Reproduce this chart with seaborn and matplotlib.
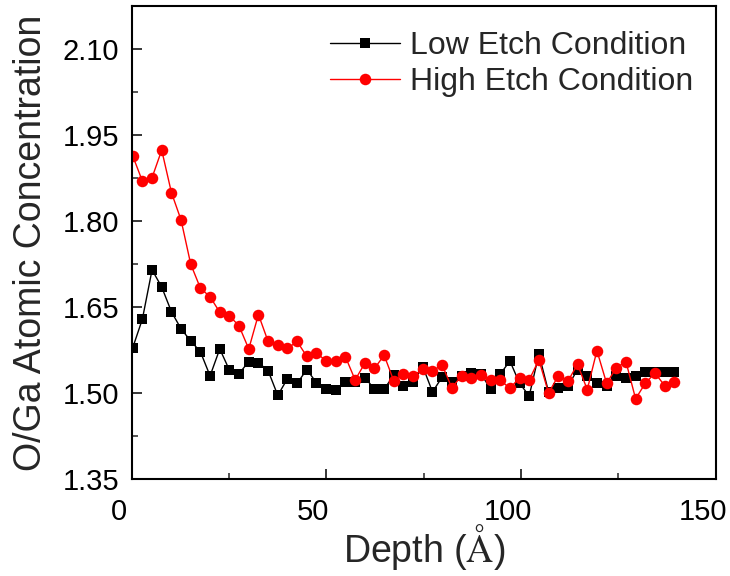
import matplotlib
matplotlib.use("Agg")
import matplotlib.pyplot as plt
from matplotlib.transforms import ScaledTranslation
from matplotlib.ticker import MultipleLocator
import seaborn as sns
import pandas as pd

depth = [0.26, 2.74, 5.23, 7.71, 10.20, 12.68, 15.16, 17.65, 20.13, 22.62,
         25.10, 27.58, 30.07, 32.55, 35.04, 37.52, 40.00, 42.49, 44.97, 47.46,
         49.94, 52.42, 54.91, 57.39, 59.88, 62.36, 64.84, 67.33, 69.81, 72.30,
         74.78, 77.26, 79.75, 82.23, 84.72, 87.20, 89.68, 92.17, 94.65, 97.14,
         99.62, 102.10, 104.59, 107.07, 109.56, 112.04, 114.52, 117.01, 119.49, 121.98,
         124.46, 126.94, 129.43, 131.91, 134.40, 136.88, 139.36]

low_etch = [1.579, 1.629, 1.715, 1.685, 1.642, 1.612, 1.591, 1.572, 1.530, 1.577,
            1.540, 1.534, 1.555, 1.553, 1.539, 1.496, 1.525, 1.517, 1.541, 1.518,
            1.507, 1.505, 1.520, 1.520, 1.527, 1.507, 1.507, 1.531, 1.512, 1.520,
            1.546, 1.502, 1.528, 1.520, 1.530, 1.535, 1.534, 1.507, 1.533, 1.556,
            1.517, 1.495, 1.568, 1.502, 1.508, 1.512, 1.541, 1.530, 1.517, 1.513,
            1.530, 1.526, 1.530, 1.537, 1.537, 1.537, 1.536]

high_etch = [1.914, 1.870, 1.876, 1.924, 1.850, 1.802, 1.725, 1.683, 1.668, 1.641,
             1.635, 1.617, 1.577, 1.637, 1.590, 1.584, 1.578, 1.590, 1.564, 1.570,
             1.556, 1.556, 1.563, 1.523, 1.552, 1.543, 1.566, 1.521, 1.533, 1.530,
             1.542, 1.539, 1.549, 1.509, 1.530, 1.526, 1.531, 1.523, 1.523, 1.508,
             1.527, 1.523, 1.558, 1.500, 1.530, 1.521, 1.550, 1.506, 1.574, 1.517,
             1.544, 1.555, 1.490, 1.517, 1.535, 1.513, 1.519]

series_labels = ["Low Etch Condition", "High Etch Condition"]
x_ticks = [0, 50, 100, 150]
y_ticks = [1.35, 1.50, 1.65, 1.80, 1.95, 2.10]

sns.set_theme(style="ticks")
plt.rcParams["font.family"] = ["Liberation Sans", "DejaVu Sans"]
plt.rcParams["mathtext.fontset"] = "stix"

fig = plt.figure(figsize=(7.3, 5.76), dpi=100)
ax = fig.add_axes([131.7 / 730, 1 - 479 / 576, (715.7 - 131.7) / 730, (479 - 6.3) / 576])

df_low = pd.DataFrame({"depth": depth, "val": low_etch})
df_high = pd.DataFrame({"depth": depth, "val": high_etch})

sns.lineplot(data=df_low, x="depth", y="val", ax=ax, color="black", lw=1.0,
             marker="s", markersize=6.5, markeredgewidth=0, estimator=None,
             label=series_labels[0])
sns.lineplot(data=df_high, x="depth", y="val", ax=ax, color="#ff0000", lw=1.0,
             marker="o", markersize=8.3, markeredgewidth=0, estimator=None,
             label=series_labels[1])

ax.set_xlim(0, 150)
ax.set_ylim(1.35, 2.175)
ax.set_xticks(x_ticks)
ax.set_yticks(y_ticks)
ax.set_yticklabels([f"{v:.2f}" for v in y_ticks])
ax.xaxis.set_minor_locator(MultipleLocator(25))
ax.yaxis.set_minor_locator(MultipleLocator(0.075))

ax.tick_params(which="major", direction="in", length=7.2, width=1.1, labelsize=21,
               colors="black")
ax.tick_params(which="minor", direction="in", length=4.3, width=1.1)
ax.tick_params(axis="x", which="major", pad=14)
ax.tick_params(axis="y", which="major", pad=9)

for s in ax.spines.values():
    s.set_visible(True)
    s.set_linewidth(1.5)
    s.set_color("black")

for lab in ax.get_xticklabels():
    lab.set_transform(lab.get_transform() + ScaledTranslation(-13 / 100, 0, fig.dpi_scale_trans))

ax.set_xlabel(r"Depth ($\mathrm{\AA}$)", fontsize=27, labelpad=-3)
ax.set_ylabel("O/Ga Atomic Concentration", fontsize=27, labelpad=10)

leg = ax.legend(loc="upper left", bbox_to_anchor=((330 - 131.7) / 584, 0.948),
                frameon=False, fontsize=23, handlelength=2.2, handletextpad=0.3,
                labelspacing=0.2, borderpad=0, borderaxespad=0)
for h in leg.legend_handles:
    h.set_linewidth(1.0)

fig.savefig("out.png", dpi=100)
